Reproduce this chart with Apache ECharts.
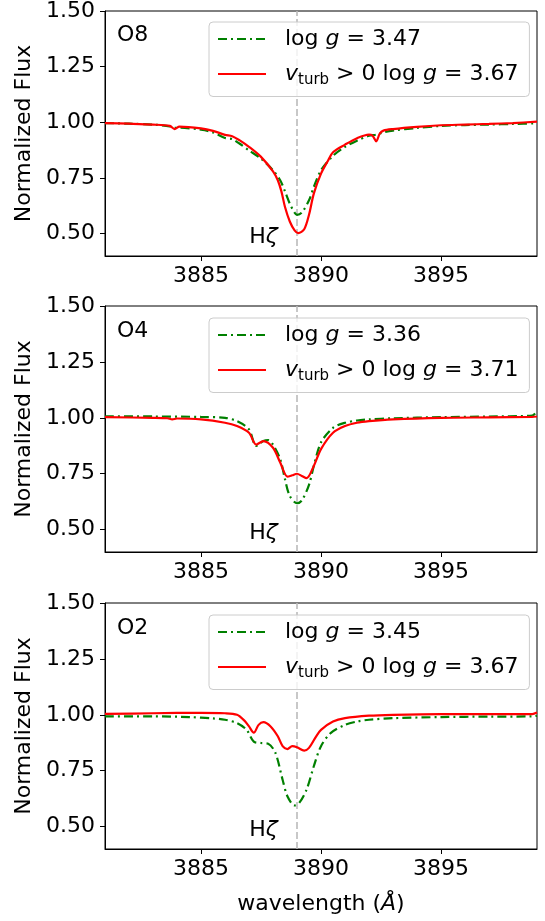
<!DOCTYPE html>
<html>
<head>
<meta charset="utf-8">
<script src="https://cdn.jsdelivr.net/npm/echarts@6/dist/echarts.min.js"></script>
<style>
html,body{margin:0;padding:0;background:#fff;}
#chart{width:545px;height:921px;}
</style>
</head>
<body>
<div id="chart"></div>
<script>
// ---- data ----
const panelNames = ['O8', 'O4', 'O2'];
const loggGreen = ['3.47', '3.36', '3.45'];
const loggRed = ['3.67', '3.71', '3.67'];
const xTicks = [3885, 3890, 3895];
const yTicks = [0.50, 0.75, 1.00, 1.25, 1.50];
const hzetaLine = 3889.0;
const hzetaLabel = [3887.6, 0.485];

// O8 panel
const o8Green = [
  [3881,0.997],[3882,0.994],[3883,0.99],[3883.7,0.982],[3883.9,0.975],[3884.1,0.976],[3885,0.967],[3885.5,0.955],[3886,0.93],[3886.3,0.925],
  [3886.6,0.905],[3887,0.874],[3887.5,0.837],[3888,0.785],[3888.3,0.74],[3888.5,0.69],[3888.7,0.635],[3888.9,0.595],
  [3889.0,0.585],[3889.2,0.595],[3889.5,0.65],[3889.7,0.71],[3890,0.785],[3890.5,0.85],[3891,0.89],[3891.5,0.918],
  [3892,0.94],[3892.3,0.945],[3892.6,0.955],[3893,0.963],[3894,0.975],[3895,0.984],[3896,0.988],[3897,0.99],[3898,0.993],[3899,0.996]
];
const o8Red = [
  [3881,0.997],[3882,0.994],[3883,0.99],[3883.7,0.984],[3883.9,0.97],[3884.1,0.981],[3885,0.973],[3885.5,0.962],[3886,0.944],[3886.3,0.938],
  [3886.6,0.92],[3887,0.89],[3887.5,0.845],[3888,0.78],[3888.2,0.74],[3888.35,0.69],[3888.5,0.62],[3888.7,0.555],[3888.9,0.515],
  [3889.05,0.503],[3889.3,0.52],[3889.5,0.585],[3889.7,0.68],[3890,0.77],[3890.3,0.83],[3890.5,0.866],[3891,0.9],
  [3891.5,0.929],[3892,0.945],[3892.15,0.94],[3892.3,0.915],[3892.45,0.95],[3892.6,0.963],[3893,0.97],[3894,0.98],
  [3895,0.987],[3896,0.99],[3897,0.993],[3898,0.997],[3899,1.003]
];
// O4 panel
const o4Green = [
  [3881,1.007],[3883,1.006],[3885,1.004],[3886,1.0],[3886.5,0.985],[3887,0.948],[3887.3,0.874],[3887.6,0.896],
  [3887.8,0.9],[3888,0.88],[3888.3,0.815],[3888.5,0.725],[3888.7,0.65],[3889.0,0.618],[3889.2,0.63],[3889.5,0.7],
  [3889.7,0.785],[3890,0.89],[3890.5,0.955],[3891,0.978],[3891.5,0.988],[3892,0.993],[3893,0.998],[3895,1.003],
  [3897,1.006],[3898.8,1.01],[3899,1.03]
];
const o4Red = [
  [3881,1.003],[3883,1.0],[3883.6,0.998],[3883.8,0.993],[3884,0.997],[3885,0.993],[3886,0.978],[3886.5,0.963],[3887,0.933],
  [3887.3,0.88],[3887.6,0.896],[3888,0.866],[3888.3,0.8],[3888.6,0.737],[3888.8,0.743],[3889.0,0.75],[3889.2,0.74],
  [3889.4,0.73],[3889.7,0.785],[3890,0.86],[3890.5,0.933],[3891,0.963],[3891.5,0.978],[3892,0.985],[3893,0.993],
  [3895,1.0],[3897,1.002],[3898.8,1.004],[3899,1.006]
];
// O2 panel
const o2Green = [
  [3881,0.993],[3883,0.993],[3884.5,0.99],[3885.5,0.984],[3886,0.978],[3886.5,0.963],[3886.9,0.933],[3887.2,0.88],
  [3887.5,0.874],[3887.8,0.871],[3888.1,0.83],[3888.4,0.71],[3888.6,0.636],[3888.9,0.595],[3889.1,0.607],[3889.4,0.666],
  [3889.7,0.77],[3890,0.86],[3890.4,0.918],[3891,0.955],[3891.5,0.97],[3892,0.978],[3893,0.985],[3895,0.99],
  [3897,0.992],[3898.8,0.993],[3899,0.996]
];
const o2Red = [
  [3881,1.004],[3883,1.007],[3885,1.009],[3886,1.007],[3886.5,1.0],[3886.8,0.975],[3887.0,0.948],[3887.2,0.92],
  [3887.4,0.955],[3887.6,0.967],[3887.9,0.948],[3888.2,0.904],[3888.4,0.86],[3888.6,0.847],[3888.8,0.86],[3889.0,0.855],
  [3889.3,0.84],[3889.5,0.852],[3889.8,0.904],[3890,0.933],[3890.5,0.97],[3891,0.985],[3892,0.996],[3893,1.0],
  [3895,1.003],[3897,1.003],[3898.8,1.003],[3899,1.01]
];
const greenData = [o8Green, o4Green, o2Green];
const redData = [o8Red, o4Red, o2Red];

// ---- chart ----
const FONT = 'DejaVu Sans';
const FS = 22;
const gridTops = [10, 306, 603];
const gridH = 246;
const chart = echarts.init(document.getElementById('chart'), null, {renderer: 'canvas'});

const richStyles = {
  sp: {width: 14, fontSize: FS, fontFamily: FONT},
  n: {fontSize: FS, fontFamily: FONT, color: '#000'},
  i: {fontSize: FS, fontFamily: FONT, fontStyle: 'italic', color: '#000'},
  sub: {fontSize: 15, fontFamily: FONT, color: '#000', padding: [12, 0, 0, 0]}
};
const legendText = {};
const grids = [], xAxes = [], yAxes = [], series = [], legends = [], titles = [];
panelNames.forEach((p, k) => {
  const gName = p + '_g', rName = p + '_r';
  legendText[gName] = '{sp|}{n|log }{i|g}{n| = ' + loggGreen[k] + '}';
  legendText[rName] = '{sp|}{i|v}{sub|turb}{n| > 0 log }{i|g}{n| = ' + loggRed[k] + '}';
  grids.push({left: 105, right: 8, top: gridTops[k], height: gridH, show: true, borderColor: '#000', borderWidth: 1, containLabel: false});
  xAxes.push({
    type: 'value', gridIndex: k, min: 3881, max: 3899,
    axisLine: {show: true, onZero: false, lineStyle: {color: '#000', width: 1}},
    axisTick: {show: true, length: 5, lineStyle: {color: '#000'}, customValues: xTicks},
    axisLabel: {show: true, color: '#000', fontSize: FS, fontFamily: FONT, margin: 9, customValues: xTicks,
      formatter: v => String(v)},
    splitLine: {show: false},
    name: k === 2 ? 'wavelength ({i|Å})' : '',
    nameLocation: 'middle', nameGap: 44,
    nameTextStyle: {color: '#000', fontSize: FS, fontFamily: FONT,
      rich: {i: {fontStyle: 'italic', fontSize: FS, fontFamily: FONT, color: '#000'}}}
  });
  yAxes.push({
    type: 'value', gridIndex: k, min: 0.40, max: 1.50,
    axisLine: {show: true, onZero: false, lineStyle: {color: '#000', width: 1}},
    axisTick: {show: true, length: 5, lineStyle: {color: '#000'}, customValues: yTicks},
    axisLabel: {show: true, color: '#000', fontSize: FS, fontFamily: FONT, margin: 10, customValues: yTicks,
      formatter: v => v.toFixed(2)},
    splitLine: {show: false},
    name: 'Normalized Flux', nameLocation: 'middle', nameGap: 69,
    nameTextStyle: {color: '#000', fontSize: FS, fontFamily: FONT}
  });
  series.push({
    name: gName, type: 'line', xAxisIndex: k, yAxisIndex: k, data: greenData[k],
    symbol: 'none', smooth: 0.3, z: 3,
    lineStyle: {color: '#008000', width: 2.2, type: [9, 4, 2, 4]},
    itemStyle: {color: '#008000'}
  });
  series.push({
    name: rName, type: 'line', xAxisIndex: k, yAxisIndex: k, data: redData[k],
    symbol: 'none', smooth: 0.3, z: 4,
    lineStyle: {color: '#ff0000', width: 2.2, type: 'solid'},
    itemStyle: {color: '#ff0000'},
    markLine: {
      silent: true, symbol: 'none', z: 1,
      lineStyle: {color: '#bbbbbb', width: 1.6, type: [7, 3]},
      label: {show: false},
      data: [{xAxis: hzetaLine}]
    }
  });
  series.push({
    name: p + '_lbl', type: 'scatter', xAxisIndex: k, yAxisIndex: k, data: [hzetaLabel],
    symbolSize: 0, silent: true,
    itemStyle: {opacity: 1, color: '#000'},
    label: {show: true, position: 'inside', formatter: '{n|H}{i|ζ}', opacity: 1,
      rich: {
        n: {color: '#000', fontSize: FS, fontFamily: FONT},
        i: {color: '#000', fontSize: FS, fontFamily: FONT, fontStyle: 'italic'}
      }}
  });
  legends.push({
    data: [gName, rName], orient: 'vertical', left: 209, top: gridTops[k] + 12,
    itemWidth: 48, itemHeight: 14, itemGap: 13,
    padding: [6, 11, 9, 8],
    backgroundColor: 'rgba(255,255,255,0.8)', borderColor: '#cccccc', borderWidth: 1, borderRadius: 4,
    selectedMode: false,
    itemStyle: {opacity: 0},
    formatter: name => legendText[name],
    textStyle: {fontSize: FS, fontFamily: FONT, color: '#000', rich: richStyles}
  });
  titles.push({
    text: p, left: 112, top: gridTops[k] + 9,
    textStyle: {fontSize: FS, fontFamily: FONT, fontWeight: 'normal', color: '#000'}
  });
});

chart.setOption({
  animation: false,
  backgroundColor: '#fff',
  title: titles,
  grid: grids,
  xAxis: xAxes,
  yAxis: yAxes,
  legend: legends,
  series: series
});
</script>
</body>
</html>
